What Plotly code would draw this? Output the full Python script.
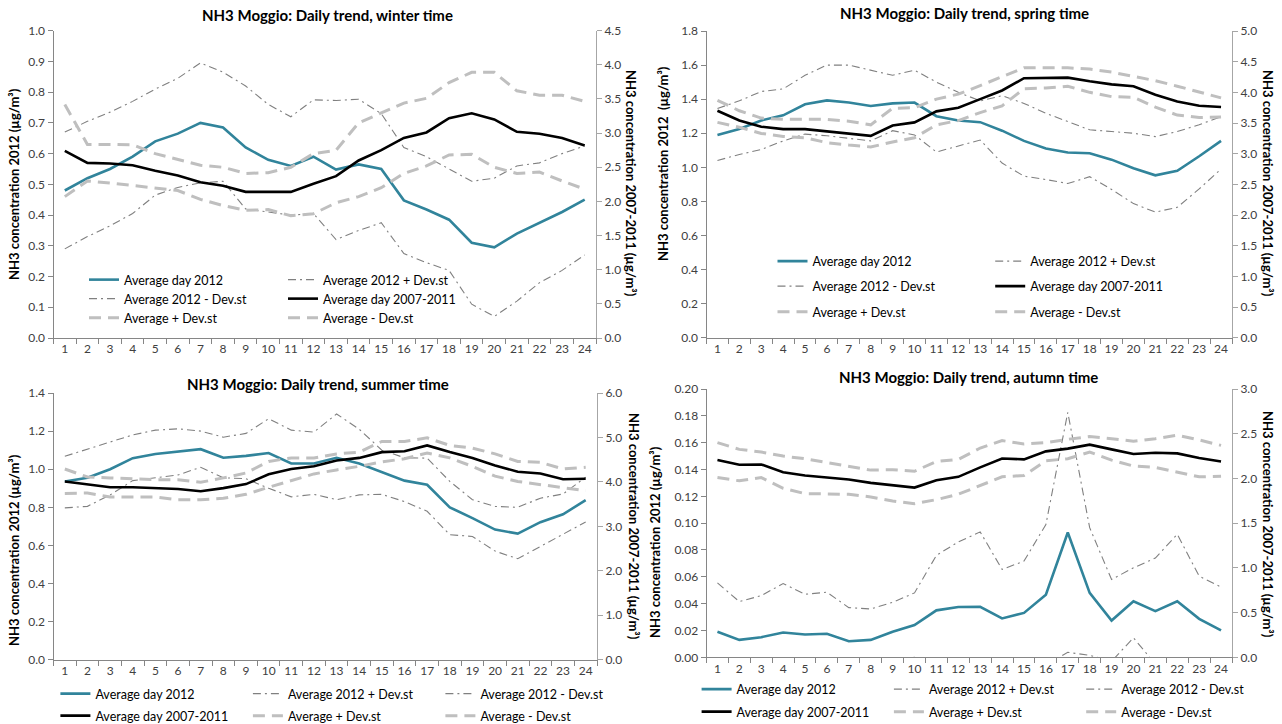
import plotly.graph_objects as go

W, H = 1282, 724
FONT = "Lato"

hours = list(range(1, 25))
series_names = ["Average day 2012", "Average 2012 + Dev.st", "Average 2012 - Dev.st",
                "Average day 2007-2011", "Average + Dev.st", "Average - Dev.st"]

# ---------------- winter ----------------
winter_avg2012 = [0.48, 0.52, 0.55, 0.59, 0.64, 0.665, 0.70, 0.685, 0.62, 0.58, 0.56, 0.59,
                  0.548, 0.565, 0.55, 0.448, 0.418, 0.385, 0.31, 0.295, 0.34, 0.375, 0.41, 0.45]
winter_2012_plus = [0.67, 0.705, 0.735, 0.77, 0.81, 0.845, 0.895, 0.865, 0.82, 0.76, 0.72, 0.775,
                    0.773, 0.777, 0.73, 0.62, 0.59, 0.55, 0.51, 0.52, 0.56, 0.57, 0.60, 0.625]
winter_2012_minus = [0.29, 0.33, 0.365, 0.405, 0.465, 0.49, 0.505, 0.51, 0.42, 0.41, 0.40, 0.405,
                     0.32, 0.35, 0.375, 0.275, 0.245, 0.22, 0.11, 0.07, 0.12, 0.18, 0.22, 0.27]
winter_avg0711 = [2.74, 2.565, 2.556, 2.53, 2.45, 2.38, 2.28, 2.23, 2.14, 2.14, 2.14, 2.26,
                  2.37, 2.60, 2.75, 2.93, 3.01, 3.22, 3.29, 3.20, 3.02, 2.99, 2.93, 2.82]
winter_plus = [3.42, 2.835, 2.835, 2.83, 2.70, 2.61, 2.53, 2.50, 2.41, 2.42, 2.50, 2.70,
               2.75, 3.15, 3.29, 3.44, 3.51, 3.74, 3.89, 3.89, 3.62, 3.555, 3.555, 3.465]
winter_minus = [2.07, 2.30, 2.27, 2.23, 2.19, 2.16, 2.03, 1.94, 1.87, 1.88, 1.79, 1.82,
                1.98, 2.07, 2.20, 2.41, 2.52, 2.68, 2.69, 2.50, 2.41, 2.43, 2.30, 2.18]

# ---------------- spring ----------------
spring_avg2012 = [1.19, 1.225, 1.275, 1.305, 1.37, 1.393, 1.38, 1.36, 1.375, 1.38, 1.30, 1.275,
                  1.265, 1.215, 1.155, 1.11, 1.087, 1.083, 1.045, 0.995, 0.953, 0.98, 1.065, 1.155]
spring_2012_plus = [1.345, 1.39, 1.445, 1.46, 1.54, 1.60, 1.60, 1.57, 1.54, 1.57, 1.50, 1.44,
                    1.39, 1.42, 1.375, 1.317, 1.27, 1.22, 1.21, 1.20, 1.18, 1.21, 1.25, 1.297]
spring_2012_minus = [1.04, 1.075, 1.105, 1.155, 1.195, 1.185, 1.17, 1.155, 1.215, 1.19, 1.09, 1.125,
                     1.16, 1.025, 0.948, 0.928, 0.905, 0.945, 0.87, 0.787, 0.737, 0.765, 0.873, 0.99]
spring_avg0711 = [3.70, 3.54, 3.44, 3.40, 3.40, 3.36, 3.33, 3.29, 3.46, 3.51, 3.69, 3.75,
                  3.89, 4.03, 4.23, 4.23, 4.24, 4.18, 4.13, 4.10, 3.96, 3.85, 3.78, 3.76]
spring_plus = [3.87, 3.70, 3.58, 3.56, 3.56, 3.56, 3.53, 3.47, 3.74, 3.75, 3.89, 3.97,
               4.11, 4.25, 4.40, 4.40, 4.40, 4.38, 4.33, 4.26, 4.19, 4.10, 4.00, 3.91]
spring_minus = [3.51, 3.43, 3.33, 3.28, 3.26, 3.18, 3.14, 3.11, 3.19, 3.26, 3.47, 3.54,
                3.67, 3.78, 4.06, 4.07, 4.10, 4.00, 3.93, 3.92, 3.76, 3.63, 3.59, 3.60]

# ---------------- summer ----------------
summer_avg2012 = [0.935, 0.955, 1.0, 1.058, 1.08, 1.092, 1.105, 1.06, 1.07, 1.085, 1.03, 1.03,
                  1.06, 1.03, 0.985, 0.94, 0.918, 0.80, 0.743, 0.683, 0.662, 0.722, 0.763, 0.838]
summer_2012_plus = [1.068, 1.105, 1.145, 1.18, 1.205, 1.212, 1.20, 1.168, 1.188, 1.265, 1.205, 1.195,
                    1.29, 1.21, 1.10, 1.06, 1.058, 0.936, 0.84, 0.805, 0.80, 0.848, 0.87, 0.958]
summer_2012_minus = [0.797, 0.805, 0.865, 0.94, 0.955, 0.97, 1.01, 0.955, 0.95, 0.90, 0.855, 0.868,
                     0.84, 0.865, 0.868, 0.83, 0.779, 0.656, 0.647, 0.57, 0.53, 0.595, 0.657, 0.723]
summer_avg0711 = [4.01, 3.94, 3.88, 3.88, 3.86, 3.84, 3.79, 3.86, 3.95, 4.17, 4.29, 4.35,
                  4.48, 4.54, 4.67, 4.69, 4.82, 4.67, 4.54, 4.37, 4.23, 4.19, 4.06, 4.07]
summer_plus = [4.29, 4.11, 4.09, 4.07, 4.05, 4.05, 3.99, 4.09, 4.20, 4.46, 4.54, 4.54,
               4.63, 4.67, 4.91, 4.91, 4.99, 4.82, 4.76, 4.63, 4.46, 4.44, 4.29, 4.33]
summer_minus = [3.74, 3.75, 3.66, 3.66, 3.66, 3.60, 3.60, 3.63, 3.72, 3.88, 4.03, 4.18,
                4.27, 4.35, 4.45, 4.52, 4.65, 4.54, 4.35, 4.13, 4.01, 3.94, 3.86, 3.80]

# ---------------- autumn ----------------
autumn_avg2012 = [0.019, 0.013, 0.015, 0.0185, 0.017, 0.0175, 0.012, 0.013, 0.019, 0.024, 0.035, 0.0375,
                  0.0376, 0.029, 0.0331, 0.0467, 0.093, 0.048, 0.0274, 0.0418, 0.0344, 0.0418, 0.0287, 0.020]
autumn_2012_plus = [0.0555, 0.0415, 0.046, 0.055, 0.047, 0.0485, 0.037, 0.036, 0.041, 0.048, 0.076, 0.086,
                    0.0935, 0.0655, 0.0717, 0.099, 0.1826, 0.0966, 0.058, 0.0667, 0.074, 0.0917, 0.0605, 0.0523]
autumn_2012_minus = [-0.0175, -0.0155, -0.016, -0.018, -0.013, -0.0135, -0.013, -0.010, -0.003, 0.0, -0.006, -0.011,
                     -0.018, -0.0075, -0.0055, -0.0056, 0.0037, 0.0015, -0.003, 0.0145, -0.005, -0.008, -0.003, -0.012]
autumn_avg0711 = [2.205, 2.153, 2.156, 2.07, 2.033, 2.01, 1.988, 1.95, 1.928, 1.898, 1.98, 2.018,
                  2.123, 2.223, 2.213, 2.303, 2.333, 2.378, 2.325, 2.273, 2.288, 2.28, 2.228, 2.19]
autumn_plus = [2.40, 2.325, 2.295, 2.25, 2.22, 2.175, 2.138, 2.093, 2.097, 2.08, 2.19, 2.213,
               2.34, 2.423, 2.385, 2.40, 2.438, 2.468, 2.445, 2.415, 2.445, 2.483, 2.43, 2.37]
autumn_minus = [2.01, 1.973, 2.01, 1.89, 1.83, 1.827, 1.823, 1.793, 1.748, 1.718, 1.763, 1.823,
                1.92, 2.018, 2.033, 2.198, 2.22, 2.295, 2.205, 2.138, 2.123, 2.07, 2.018, 2.025]

titles = ["NH3 Moggio: Daily trend, winter time", "NH3 Moggio: Daily trend, spring time",
          "NH3 Moggio: Daily trend, summer time", "NH3 Moggio: Daily trend, autumn time"]
left_titles = ["NH3 concentration 2012 (µg/m³)", "NH3 concentration 2012  (µg/m³)",
               "NH3 concentration 2012 (µg/m³)", "NH3 concentration 2012 (µg/m³)"]
right_title = "NH3 concentration 2007-2011 (µg/m³)"

TEAL = "#31849B"
DASHDOT_GRAY = "#808080"
LIGHT_GRAY = "#BFBFBF"
styles = [
    dict(color=TEAL, width=2.6, dash="solid"),
    dict(color=DASHDOT_GRAY, width=1.1, dash="8px,4px,2px,4px"),
    dict(color=DASHDOT_GRAY, width=1.1, dash="8px,4px,2px,4px"),
    dict(color="black", width=2.6, dash="solid"),
    dict(color=LIGHT_GRAY, width=3, dash="12px,7px"),
    dict(color=LIGHT_GRAY, width=3, dash="12px,7px"),
]
on_right = [False, False, False, True, True, True]

def X(px):
    return px / W

def Y(py):
    return 1 - py / H

# panel geometry in pixels: x0, x1, ytop, ybottom
panels = [
    dict(x=(53.5, 596), y=(30.7, 338)),
    dict(x=(706.5, 1232), y=(31, 337.7)),
    dict(x=(53.5, 597), y=(393, 659.7)),
    dict(x=(706.5, 1232), y=(389, 657.3)),
]
data = [
    [winter_avg2012, winter_2012_plus, winter_2012_minus, winter_avg0711, winter_plus, winter_minus],
    [spring_avg2012, spring_2012_plus, spring_2012_minus, spring_avg0711, spring_plus, spring_minus],
    [summer_avg2012, summer_2012_plus, summer_2012_minus, summer_avg0711, summer_plus, summer_minus],
    [autumn_avg2012, autumn_2012_plus, autumn_2012_minus, autumn_avg0711, autumn_plus, autumn_minus],
]
left_ranges = [(1.0, 0.1, ".1f"), (1.8, 0.2, ".1f"), (1.4, 0.2, ".1f"), (0.2, 0.02, ".2f")]
right_ranges = [(4.5, 0.5, ".1f"), (5.0, 0.5, ".1f"), (6.0, 1.0, ".1f"), (3.0, 0.5, ".1f")]

# legend layout: rows of series indices, row y (px), first text x (px), pitch (px)
legend_rows = [
    dict(rows=[[0, 1], [2, 3], [4, 5]], ys=[280, 299, 318], tx=124, pitch=199),
    dict(rows=[[0, 1], [2, 3], [4, 5]], ys=[261.5, 286.5, 312], tx=812.5, pitch=217.7),
    dict(rows=[[0, 1, 2], [3, 4, 5]], ys=[694, 716], tx=95.4, pitch=192.5),
    dict(rows=[[0, 1, 2], [3, 4, 5]], ys=[689.5, 712], tx=736.6, pitch=192.3),
]

fig = go.Figure()
layout = dict(
    width=W, height=H, margin=dict(l=0, r=0, t=0, b=0, autoexpand=False),
    paper_bgcolor="white", plot_bgcolor="white",
    font=dict(family=FONT, size=12, color="#404040"),
    showlegend=True, annotations=[],
)

legend_counter = 0
trace_legend = {}
for p, lr in enumerate(legend_rows):
    for r, row in enumerate(lr["rows"]):
        legend_counter += 1
        key = "legend" if legend_counter == 1 else f"legend{legend_counter}"
        for s in row:
            trace_legend[(p, s)] = key
        layout[key] = dict(
            orientation="h", x=X(lr["tx"] - 40), xanchor="left",
            y=Y(lr["ys"][r]), yanchor="middle",
            bgcolor="rgba(0,0,0,0)", borderwidth=0,
            entrywidth=lr["pitch"] - 45, entrywidthmode="pixels",
            font=dict(family=FONT, size=12.5, color="black"),
            traceorder="normal", itemclick=False, itemdoubleclick=False,
        )

for p in range(4):
    n = p + 1
    xa = "xaxis" if n == 1 else f"xaxis{n}"
    ya_l = 2 * p + 1
    ya_r = 2 * p + 2
    yl = "yaxis" if ya_l == 1 else f"yaxis{ya_l}"
    yr = f"yaxis{ya_r}"
    xref = "x" if n == 1 else f"x{n}"
    yl_ref = "y" if ya_l == 1 else f"y{ya_l}"
    yr_ref = f"y{ya_r}"
    g = panels[p]
    xd = [X(g["x"][0]), X(g["x"][1])]
    yd = [Y(g["y"][1]), Y(g["y"][0])]
    layout[xa] = dict(
        domain=xd, anchor=yl_ref, type="category", range=[-0.5, 23.5],
        showline=True, linecolor="#868686", linewidth=1,
        ticks="outside", ticklen=5, tickcolor="#868686", tickson="boundaries",
        tickangle=0, tickfont=dict(family=FONT, size=12, color="#404040"),
        showgrid=False, zeroline=False, fixedrange=True, automargin=False,
    )
    lmax, ldt, lfmt = left_ranges[p]
    rmax, rdt, rfmt = right_ranges[p]
    layout[yl] = dict(
        domain=yd, anchor=xref, range=[0, lmax], dtick=ldt, tick0=0, tickformat=lfmt,
        showline=True, linecolor="#868686", linewidth=1,
        ticks="outside", ticklen=5, tickcolor="#868686",
        tickfont=dict(family=FONT, size=12, color="#404040"),
        showgrid=False, zeroline=False, fixedrange=True, automargin=False,
    )
    layout[yr] = dict(
        overlaying=yl_ref, side="right", anchor=xref, range=[0, rmax], dtick=rdt, tick0=0,
        tickformat=rfmt, showline=True, linecolor="#A6A6A6", linewidth=1,
        ticks="outside", ticklen=5, tickcolor="#A6A6A6",
        tickfont=dict(family=FONT, size=12, color="#404040"),
        showgrid=False, zeroline=False, fixedrange=True, automargin=False,
    )
    for s in range(6):
        fig.add_trace(go.Scatter(
            x=hours, y=data[p][s], name=series_names[s], mode="lines",
            line=styles[s], xaxis=xref, yaxis=(yr_ref if on_right[s] else yl_ref),
            legend=trace_legend[(p, s)], hoverinfo="x+y+name",
        ))

# titles and axis titles
title_pos = [(327, 15), (964, 13), (318, 384), (968, 377)]
left_title_pos = [(14, 184), (663, 163), (14, 550), (655, 542)]
right_title_pos = [(631, 183), (1268, 183), (634, 526), (1268, 524)]
for p in range(4):
    layout["annotations"].append(dict(
        text=titles[p], x=X(title_pos[p][0]), y=Y(title_pos[p][1]), xref="paper", yref="paper",
        xanchor="center", yanchor="middle", showarrow=False,
        font=dict(family=FONT, size=15, color="black", weight="bold")))
    layout["annotations"].append(dict(
        text=left_titles[p], x=X(left_title_pos[p][0]), y=Y(left_title_pos[p][1]),
        xref="paper", yref="paper", xanchor="center", yanchor="middle", showarrow=False,
        textangle=-90, font=dict(family=FONT, size=13, color="black", weight="bold")))
    layout["annotations"].append(dict(
        text=right_title, x=X(right_title_pos[p][0]), y=Y(right_title_pos[p][1]),
        xref="paper", yref="paper", xanchor="center", yanchor="middle", showarrow=False,
        textangle=90, font=dict(family=FONT, size=13, color="black", weight="bold")))

fig.update_layout(**layout)
fig.write_html(
    "out.html",
    config={"displayModeBar": False},
    post_script="document.body.style.margin='0';document.body.style.overflow='hidden';",
)
